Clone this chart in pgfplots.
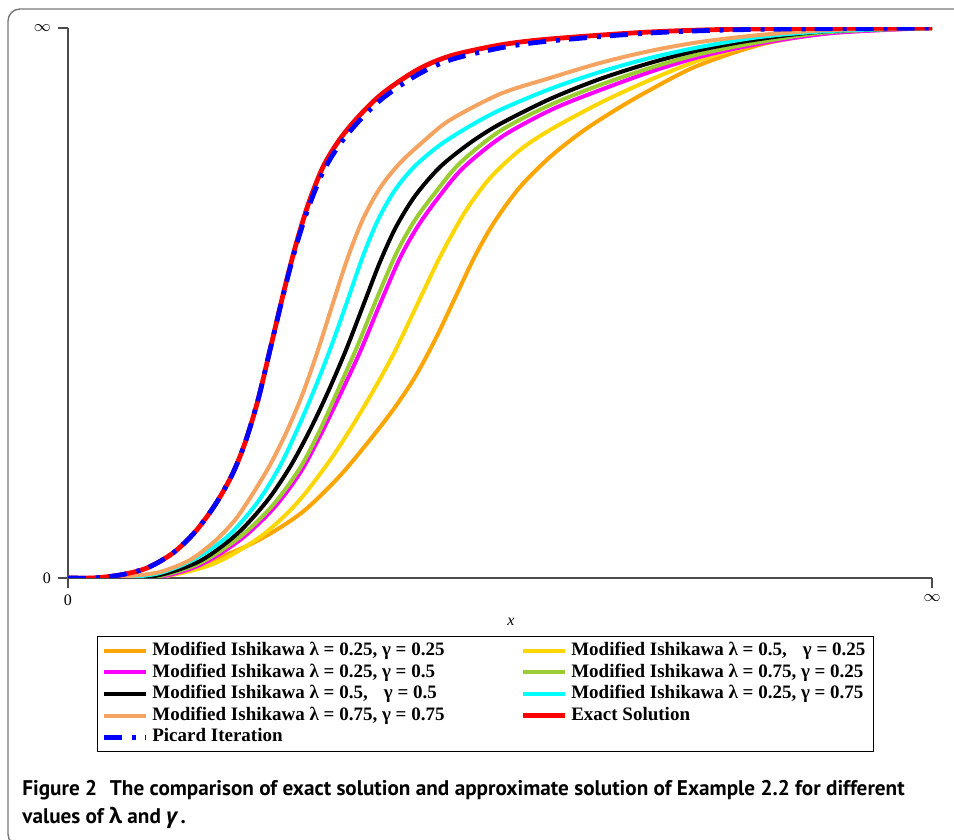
\documentclass[border=0pt]{standalone}
\usepackage{fontspec}
\setmainfont{Liberation Serif}
\newfontfamily\capfont{PT Sans}
\newfontfamily\grkfont{Open Sans}
\usepackage{pgfplots}
\pgfplotsset{compat=1.18}

\definecolor{cOrange}{RGB}{255,165,0}
\definecolor{cGold}{RGB}{255,215,0}
\definecolor{cMagenta}{RGB}{255,0,255}
\definecolor{cGreen}{RGB}{154,205,50}
\definecolor{cCyan}{RGB}{0,255,255}
\definecolor{cPeach}{RGB}{244,164,96}
\definecolor{cFrame}{RGB}{120,120,120}

\begin{document}
\begin{tikzpicture}
\useasboundingbox (0,0) rectangle (477pt,420pt);
\draw[cFrame, line width=0.7pt, rounded corners=6pt] (4pt,-3pt) rectangle (520pt,415.5pt);

\begin{axis}[
    at={(34pt,131pt)}, anchor=south west,
    width=432pt, height=275pt, scale only axis,
    xmin=0, xmax=864, ymin=0, ymax=550,
    axis lines=left,
    axis line style={-, draw=black!70, line width=0.8pt},
    tick align=outside, major tick length=5pt,
    tick style={black!70, line width=0.8pt},
    xtick={0,864}, xticklabels={0,$\infty$},
    ytick={0,550}, yticklabels={0,$\infty$},
    tick label style={font=\fontsize{8}{9}\selectfont},
    xlabel={\textit{x}},
    xlabel style={at={(axis description cs:0.5127,-0.08)}, anchor=center, font=\fontsize{8}{9}\selectfont},
    legend columns=2,
    legend cell align=left,
    legend image code/.code={\draw[#1] (0pt,0pt) -- (21pt,0pt);},
    legend style={at={(0.0336,-0.106)}, anchor=north west,
        draw=black, line width=0.5pt,
        font=\bfseries\fontsize{9.5}{10}\selectfont,
        inner xsep=2pt, inner ysep=1.6pt,
        nodes={text height=7pt, text depth=2.2pt, inner ysep=0.8pt},
        /tikz/every even column/.append style={column sep=36pt}},
    every axis plot/.append style={line width=2pt, smooth},
]
\addplot[cOrange] coordinates {
(0,0) (42,0) (75,1) (125,11) (185,35) (232,64) (269,99) (297,132) (325,168)
(347,201) (367,238) (387,280) (407,322) (427,357) (452,391) (482,421) (515,447)
(549,469) (582,488) (629,512) (695,534) (762,545) (829,549) (864,550)};
\addlegendentry{Modified Ishikawa λ = 0.25, γ = 0.25}
\addplot[cGold] coordinates {
(0,0) (42,0) (92,1) (145,14) (192,41) (229,75) (265,122) (297,173) (325,223)
(349,273) (372,321) (397,366) (422,400) (452,428) (482,448) (532,475) (582,498)
(632,518) (692,535) (762,545) (812,548) (864,550)};
\addlegendentry{Modified Ishikawa λ = 0.5,\hspace{0.6em} γ = 0.25}
\addplot[cMagenta] coordinates {
(0,0) (32,0) (62,0) (92,1) (132,13) (172,38) (205,69) (232,105) (252,142)
(272,183) (292,226) (312,274) (332,320) (350,352) (370,380) (395,410) (435,442)
(485,469) (535,489) (585,507) (635,522) (695,535) (765,545) (864,550)};
\addlegendentry{Modified Ishikawa λ = 0.25, γ = 0.5}
\addplot[cGreen] coordinates {
(0,0) (32,0) (62,0) (92,2) (132,15) (172,41) (205,73) (232,110) (252,148)
(270,188) (289,231) (309,280) (329,326) (347,358) (367,385) (392,415) (432,447)
(482,473) (532,493) (582,510) (632,524) (692,536) (762,546) (864,550)};
\addlegendentry{Modified Ishikawa λ = 0.75, γ = 0.25}
\addplot[black] coordinates {
(0,0) (32,0) (62,1) (92,3) (132,17) (169,44) (199,77) (222,111) (242,148)
(260,186) (278,228) (295,272) (312,316) (328,351) (347,382) (372,411) (402,435)
(432,454) (482,479) (532,499) (582,515) (632,528) (692,539) (762,547) (864,550)};
\addlegendentry{Modified Ishikawa λ = 0.5,\hspace{0.6em} γ = 0.5}
\addplot[cCyan] coordinates {
(0,0) (32,0) (62,1) (92,5) (125,18) (159,41) (189,75) (212,112) (230,150)
(247,190) (263,231) (279,276) (295,322) (310,358) (327,388) (347,412) (372,433)
(402,452) (432,468) (482,489) (532,506) (582,520) (632,531) (692,541) (762,547) (864,550)};
\addlegendentry{Modified Ishikawa λ = 0.25, γ = 0.75}
\addplot[cPeach] coordinates {
(0,0) (32,0) (62,2) (92,6) (122,18) (147,37) (167,58) (184,83) (202,113)
(219,147) (235,185) (250,228) (265,275) (280,321) (295,359) (312,390) (332,415)
(357,438) (382,458) (432,484) (482,500) (532,515) (582,527) (632,536) (692,543)
(762,548) (864,550)};
\addlegendentry{Modified Ishikawa λ = 0.75, γ = 0.75}
\addplot[red, line width=2.4pt] coordinates {
(0,0) (25,0) (52,3) (79,10) (105,25) (127,46) (147,73) (164,103) (177,135)
(190,178) (202,228) (215,283) (227,330) (240,373) (255,411) (272,439) (292,463)
(315,485) (349,508) (382,522) (432,533) (482,539) (582,546) (682,549) (864,550)};
\addlegendentry{Exact Solution}
\addplot[blue, line width=2.4pt, dash pattern=on 9pt off 5pt on 2pt off 4.5pt] coordinates {
(0,0) (25,0) (52,3) (79,10) (105,25) (127,46) (147,73) (164,103) (177,135)
(190,178) (202,228) (215,282) (227,328) (240,369) (255,406) (272,434) (292,458)
(315,480) (349,503) (382,518) (432,530) (482,537) (582,545) (682,548.5) (864,550)};
\addlegendentry{Picard Iteration}
\end{axis}

\node[anchor=base west, inner sep=0, font=\capfont\bfseries\fontsize{10.6}{14}\selectfont]
  at (11pt,22pt) {Figure 2\hspace{0.6em}The comparison of exact solution and approximate solution of Example 2.2 for different};
\node[anchor=base west, inner sep=0, font=\capfont\bfseries\fontsize{10.6}{14}\selectfont]
  at (11pt,8pt) {values of {\grkfont λ} and {\grkfont\itshape γ}\,.};
\end{tikzpicture}
\end{document}
